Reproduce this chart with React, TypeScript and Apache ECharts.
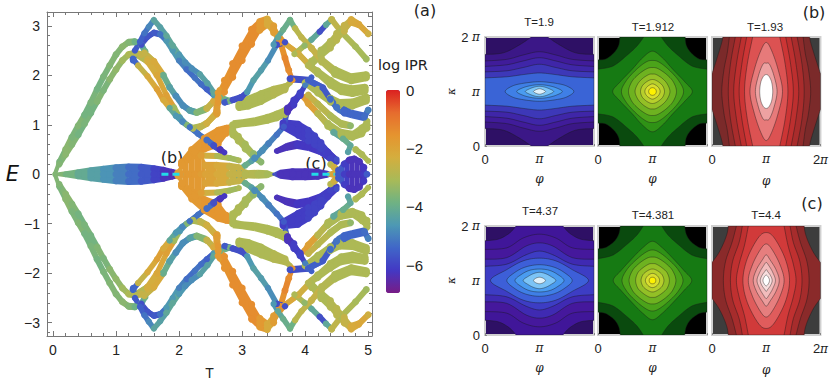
import React, { useEffect, useRef } from "react";
import * as echarts from "echarts";

type P = [number, number, number, number]; // T, E, band thickness in E, log IPR

const outerRise: P[] = [[.03,0,.1,-3.6],[.1,.25,.13,-3.7],[.2,.5,.14,-3.5],[.3,.75,.14,-3.7],[.4,.98,.14,-3.6],[.5,1.2,.14,-3.8],[.6,1.45,.14,-3.7],[.7,1.72,.14,-3.8],[.8,1.97,.14,-3.7],[.9,2.2,.14,-3.6],[1,2.42,.14,-3.6],[1.1,2.58,.14,-3.5],[1.2,2.67,.14,-3.6],[1.3,2.68,.14,-3.9],[1.4,2.62,.14,-4.2],[1.46,2.48,.14,-3.8]];
const innerRise: P[] = [[.1,.2,.13,-3.6],[.2,.4,.14,-3.5],[.3,.6,.14,-3.6],[.4,.8,.14,-3.8],[.5,1.02,.14,-3.7],[.6,1.24,.14,-3.8],[.7,1.47,.14,-3.6],[.8,1.7,.14,-3.7],[.9,1.92,.14,-3.5],[1,2.12,.14,-3.4],[1.1,2.3,.14,-3.2],[1.2,2.42,.14,-3],[1.3,2.44,.14,-2.8],[1.4,2.42,.14,-2.6],[1.5,2.32,.14,-2.4]];
const peakA: P[] = [[1.27,2.3,.13,-5.4],[1.3,2.5,.13,-5.6],[1.38,2.68,.13,-5.5],[1.45,2.85,.13,-5.2],[1.52,2.98,.13,-4.9],[1.6,3.12,.13,-4.3],[1.7,2.97,.13,-4.4],[1.8,2.8,.13,-4.2],[1.9,2.6,.13,-4.2],[2,2.42,.13,-4.6],[2.1,2.26,.13,-4.8],[2.2,2.14,.13,-4.8],[2.33,2.02,.13,-4.4],[2.45,1.84,.13,-4.4],[2.55,1.65,.13,-4.2],[2.65,1.55,.13,-3.9],[2.8,1.48,.13,-3.8]];
const peakB: P[] = [[1.4,2.62,.13,-5.8],[1.5,2.78,.13,-5.7],[1.6,2.86,.13,-5.6],[1.7,2.83,.13,-5.2],[1.8,2.7,.13,-4.6],[1.9,2.5,.13,-4.6],[2,2.3,.13,-5],[2.12,2.12,.13,-5.3],[2.25,1.95,.13,-5.2],[2.35,1.82,.13,-5.3],[2.44,1.72,.13,-5.5],[2.55,1.6,.13,-4.6],[2.65,1.5,.13,-4.2]];
const fallOuter: P[] = [[1.45,2.45,.15,-2.6],[1.6,2.28,.15,-2.2],[1.75,2,.15,-4],[1.85,1.76,.14,-4.4],[1.95,1.58,.14,-4.8],[2.06,1.39,.14,-4.8],[2.17,1.29,.14,-4.4],[2.28,1.25,.14,-3.6],[2.44,1.33,.16,-2.6],[2.55,1.48,.18,-2.2],[2.65,1.66,.22,-1.8]];
const fallMiddle: P[] = [[1.3,2.44,.14,-2.9],[1.5,2.28,.14,-2.3],[1.65,2,.14,-2.1],[1.8,1.6,.13,-1.9],[1.92,1.35,.13,-3.2],[2.01,1.15,.13,-4.6],[2.12,1,.13,-3.6],[2.22,.93,.14,-3],[2.34,.96,.15,-2.7],[2.44,1.03,.16,-2.4],[2.6,1.25,.2,-2]];
const fallInner: P[] = [[1.27,2.33,.14,-5.4],[1.35,2.2,.13,-2.6],[1.5,1.98,.13,-2.2],[1.65,1.72,.13,-1.9],[1.75,1.5,.13,-2.2],[1.85,1.34,.13,-4.2],[1.95,1.18,.13,-4.6],[2.05,1.06,.13,-4.9],[2.17,.95,.13,-5.2],[2.3,.82,.13,-5.2],[2.44,.69,.14,-5.3],[2.55,.58,.15,-5.8],[2.65,.5,.17,-6.3],[2.72,.44,.12,-6.2]];
const orangeRise: P[] = [[2.04,.22,.2,-1.7],[2.2,.42,.3,-1.7],[2.4,.62,.36,-1.6],[2.62,.75,.42,-1.6],[2.75,.88,.24,-1.6],[2.83,.95,.12,-1.8]];
const orangePeak: P[] = [[2.6,1.3,.26,-1.8],[2.62,1.55,.34,-1.7],[2.72,1.78,.38,-1.5],[2.85,2.1,.42,-1.4],[3,2.45,.44,-1.4],[3.15,2.78,.44,-1.4],[3.28,3,.32,-1.7],[3.4,3.08,.26,-2.2],[3.5,2.93,.28,-1.8],[3.6,2.7,.2,-1.5],[3.68,2.35,.14,-1.3],[3.74,2.1,.14,-1.4],[3.8,1.9,.12,-1.6]];
const fallBranch: P[] = [[3.5,2.93,.15,-2],[3.68,2.64,.13,-2.1],[3.89,2.44,.14,-2.4],[4.07,2.2,.16,-2.6]];
const afterPeak: P[] = [[3.99,1.55,.14,-1.8],[4.05,1.43,.16,-1.9],[4.2,1.23,.18,-2.8],[4.36,1,.2,-3],[4.57,.82,.2,-3],[4.75,.78,.2,-3],[4.9,.88,.26,-3],[4.98,1,.28,-3]];
const goldTwo: P[] = [[4.05,1.6,.14,-2.6],[4.2,1.42,.16,-2.8],[4.4,1.18,.18,-3],[4.57,1.02,.16,-3],[4.72,.98,.14,-3.4]];
const blueArchRise: P[] = [[2.72,1.45,.13,-5.6],[2.85,1.5,.13,-5.8],[2.98,1.55,.14,-5.8],[3.08,1.66,.13,-4.6],[3.18,1.9,.13,-4.4],[3.3,2.1,.13,-4.5],[3.41,2.3,.13,-4.8],[3.55,2.62,.13,-5.8],[3.68,2.67,.13,-5.8]];
const greenTip: P[] = [[3.5,2.62,.13,-4.6],[3.57,2.77,.13,-4.2],[3.65,2.92,.13,-4],[3.76,3.12,.13,-4]];
const secondFall: P[] = [[3.76,3.12,.13,-3.9],[3.84,2.95,.13,-2.8],[3.94,2.77,.13,-2.7],[4.1,2.55,.16,-2.6],[4.26,2.3,.2,-2.9],[4.47,2.07,.24,-3],[4.73,1.93,.22,-3],[4.97,1.98,.2,-3]];
const goldLensTop: P[] = [[2.95,1.38,.2,-3],[3.1,1.45,.28,-3],[3.3,1.55,.3,-3],[3.5,1.66,.26,-2.9],[3.68,1.74,.2,-2.9],[3.76,1.85,.12,-2.8]];
const goldLensLow: P[] = [[2.85,1,.18,-3],[3,1.03,.16,-3],[3.2,1.06,.18,-3],[3.4,1.12,.2,-3],[3.55,1.18,.22,-3],[3.68,1.25,.22,-3]];
const blueThick: P[] = [[3.2,.33,.14,-4.8],[3.32,.48,.14,-4.8],[3.42,.62,.14,-5],[3.55,.8,.13,-5.2],[3.66,.96,.13,-5.6],[3.72,1.3,.22,-6.3],[3.82,1.45,.24,-6.1],[3.92,1.62,.2,-6],[4,1.8,.12,-5],[4.1,1.96,.12,-5.5]];
const darkBlob: P[] = [[3.65,1,.22,-6.1],[3.89,.9,.36,-6.1],[4.05,.78,.36,-6],[4.15,.69,.32,-6],[4.25,.58,.26,-6],[4.36,.45,.18,-6.1],[4.5,.3,.12,-5.8]];
const darkArc: P[] = [[3.55,.47,.12,-6.3],[3.7,.55,.16,-6.3],[3.87,.6,.18,-6.2],[4.05,.56,.18,-6.2],[4.23,.47,.16,-6.1],[4.4,.32,.16,-6],[4.5,.25,.12,-6]];
const blueLadder: P[] = [[3.76,1.93,.14,-5.8],[4.05,1.9,.14,-5.5],[4.28,1.75,.14,-5.6],[4.4,1.52,.16,-5.3],[4.5,1.35,.18,-5.2],[4.62,1.27,.2,-5.4],[4.73,1.22,.18,-5.4],[4.94,1.16,.18,-5.3],[5,1.3,.14,-5]];
const riseFive: P[] = [[3.83,2.43,.13,-3],[3.99,2.6,.13,-3.4],[4.1,2.72,.13,-4.2],[4.23,2.88,.13,-5.8],[4.33,3.02,.13,-4.2],[4.42,3.13,.14,-2.9]];
const fallFive: P[] = [[4.42,3.13,.14,-2.7],[4.57,2.88,.14,-3],[4.8,2.58,.14,-3.1],[4.97,2.33,.14,-3.2]];
const riseSix: P[] = [[4.1,2.25,.22,-3],[4.25,2.45,.26,-3],[4.4,2.62,.28,-2.9],[4.5,2.78,.28,-2.8],[4.62,2.95,.26,-2.6],[4.73,3.1,.2,-2.2],[4.85,3.03,.16,-2.1],[5,2.84,.14,-2.4]];
const goldLowA: P[] = [[4.05,2.2,.16,-2.9],[4.2,2.06,.2,-3],[4.4,1.85,.24,-3],[4.57,1.72,.24,-3],[4.75,1.68,.24,-3],[4.95,1.72,.22,-3]];
const goldLowC: P[] = [[4,1.85,.16,-3],[4.2,1.68,.22,-3],[4.4,1.5,.22,-3],[4.55,1.42,.2,-3],[4.75,1.42,.22,-3],[4.97,1.52,.22,-3]];
const fallEnd: P[] = [[4.8,.5,.14,-3],[4.9,.4,.14,-3],[5,.27,.12,-3]];
const midBlue: P[] = [[4.45,.85,.14,-4.2],[4.6,.72,.13,-4],[4.72,.58,.13,-4.2],[4.68,.45,.13,-4.4]];
const fanTop: P[] = [[2.35,.38,.12,-2.4],[2.6,.37,.12,-3],[2.8,.33,.12,-3.2],[2.95,.28,.12,-3]];
const fallGold: P[] = [[2.85,.85,.24,-3],[2.94,.72,.24,-3],[3.05,.56,.24,-3.1],[3.18,.38,.22,-3.4],[3.3,.25,.14,-3.5]];
const blueDotsRise: P[] = [[2.95,.1,.12,-4.2],[3.05,.18,.13,-4],[3.15,.27,.13,-4.4],[3.2,.33,.14,-4.8]];
const crossC: P[] = [[4.4,.2,.13,-2.8],[4.46,.14,.15,-2.4],[4.52,.08,.14,-2.2]];
const upperBands: P[][] = [outerRise,innerRise,fallOuter,fallMiddle,orangeRise,fallInner,peakB,peakA,fallBranch,afterPeak,goldTwo,goldLensTop,goldLensLow,orangePeak,blueArchRise,greenTip,riseFive,fallFive,riseSix,goldLowA,secondFall,goldLowC,blueLadder,midBlue,fallEnd,fanTop,fallGold,blueDotsRise,darkArc,darkBlob,blueThick,crossC];

const lensOne: P[] = [[.03,0,.06,-3.6],[.2,0,.12,-3.8],[.4,0,.2,-4.1],[.6,0,.28,-4.4],[.8,0,.34,-4.7],[1,0,.4,-5],[1.2,0,.43,-5.3],[1.4,0,.42,-5.6],[1.6,0,.36,-6],[1.75,0,.3,-6.3],[1.88,0,.22,-6.4],[1.95,0,.18,-6.6]];
const lensOrange: P[] = [[1.98,0,.2,-1.8],[2.05,0,.5,-1.7],[2.15,0,.85,-1.7],[2.25,0,1.05,-1.7],[2.35,0,.9,-1.8],[2.42,0,.5,-2],[2.6,0,.5,-2.2],[2.8,0,.46,-2.6],[2.95,0,.4,-2.6],[3.05,0,.2,-2.8]];
const lensGold: P[] = [[3.05,0,.16,-2.9],[3.25,0,.18,-3],[3.4,0,.16,-3.1],[3.5,0,.06,-3.5]];
const lensDark: P[] = [[3.5,0,.06,-5.8],[3.6,0,.18,-6.3],[3.8,0,.24,-6.3],[4,0,.24,-6.3],[4.2,0,.22,-6.3],[4.35,0,.14,-6.2]];
const lensGoldEnd: P[] = [[4.38,0,.1,-2.2],[4.46,0,.16,-2],[4.52,0,.2,-2.4]];
const blobEnd: P[] = [[4.53,0,.3,-5.6],[4.62,0,.56,-6.1],[4.7,0,.72,-6.3],[4.78,0,.76,-6.3],[4.86,0,.66,-6.3],[4.93,0,.42,-6.2],[4.98,0,.14,-5.6]];
const centerBands: P[][] = [lensOne, lensOrange, lensGold, lensDark, lensGoldEnd, blobEnd];

const dashB = [[1.72, 0], [2.07, 0]];
const dashC = [[4.1, 0], [4.47, 0]];

const rainbow = ["#781c86","#4338c4","#4066c8","#4d98b4","#6fb283","#a8ba58","#d4ae3e","#e5942f","#e66c2e","#db2120"];

const contoursB1 = [[[1,.68],[.66,.71],[.36,.86],[.15,1]],[[1,.56],[.6,.59],[.3,.67],[0,.73]],[[1,.46],[.6,.49],[.3,.56],[0,.62]],[[1,.36],[.6,.38],[.3,.44],[0,.5]],[[1,.25],[.6,.27],[.3,.31],[0,.34]],[[.63,0],[.5,.1],[.3,.15],[0,.18]],[[.42,0],[.3,.07],[.15,.11],[0,.125]],[[.26,0],[.18,.05],[.08,.085],[0,.095]],[[.11,0],[.07,.03],[0,.05]]];
const fillsB1 = ["#3b1787","#401c9a","#3f26a8","#3d38b8","#3a64d6","#3f7fe6","#4a9cf0","#7cc4f6","#dff1fb"];
const contoursB2 = [[[1,.58],[.85,.6],[.7,.72],[.62,.85],[.6,1]],[[1,.41],[.72,.47],[.45,.68],[.28,.84],[.16,1]],[[.73,0],[.6,.17],[.38,.4],[.18,.62],[0,.74]],[[.57,0],[.48,.2],[.3,.4],[.12,.54],[0,.57]],[[.44,0],[.38,.18],[.25,.32],[.1,.42],[0,.44]],[[.32,0],[.27,.14],[.18,.24],[.07,.31],[0,.32]],[[.22,0],[.19,.1],[.12,.17],[.05,.21],[0,.22]],[[.14,0],[.12,.06],[.07,.11],[0,.14]],[[.07,0],[.05,.05],[0,.07]]];
const fillsB2 = ["#0a4a0e","#167a13","#2f9216","#4ba31a","#6eb220","#93c026","#b7cf2c","#d9de30","#fff200"];
const contoursB3 = [[[1,.33],[.95,.48],[.88,.7],[.82,.9],[.8,1]],[[.82,0],[.78,.4],[.72,.7],[.68,1]],[[.7,0],[.66,.5],[.57,1]],[[.6,0],[.55,.5],[.46,1]],[[.5,0],[.45,.5],[.36,1]],[[.4,0],[.35,.5],[.25,1]],[[.3,0],[.22,.4],[.1,.75],[0,.9]],[[.2,0],[.14,.3],[.06,.5],[0,.52]],[[.12,0],[.1,.17],[.05,.28],[0,.31]]];
const fillsB3 = ["#7b2a2a","#912b2b","#a92c2c","#bd2f2f","#cc3535","#dc5252","#e77a7a","#eda2a2","#ffffff"];
const contoursC1 = [[[1,.73],[.75,.76],[.55,.87],[.43,1]],[[1,.57],[.6,.6],[.3,.78],[0,.85]],[[1,.39],[.6,.42],[.25,.63],[0,.69]],[[1,.26],[.6,.3],[.25,.47],[0,.54]],[[.9,0],[.6,.2],[.3,.36],[0,.41]],[[.6,0],[.45,.15],[.25,.25],[0,.29]],[[.45,0],[.32,.12],[.17,.19],[0,.21]],[[.3,0],[.2,.08],[.1,.13],[0,.15]],[[.11,0],[.07,.04],[0,.06]]];
const fillsC1 = ["#401699","#45189c","#3f2ab2","#3d3dc4","#3d5fd8","#3f7fe6","#4a9cf0","#7cc4f6","#dff1fb"];
const contoursC2 = [[[1,.58],[.85,.61],[.7,.72],[.62,.85],[.59,1]],[[1,.4],[.72,.47],[.45,.68],[.28,.84],[.17,1]],[[.72,0],[.58,.18],[.38,.4],[.18,.6],[0,.72]],[[.56,0],[.47,.2],[.3,.38],[.12,.52],[0,.56]],[[.43,0],[.37,.18],[.25,.31],[.1,.41],[0,.43]],[[.31,0],[.27,.14],[.18,.23],[.07,.3],[0,.31]],[[.21,0],[.18,.1],[.12,.16],[.05,.2],[0,.21]],[[.13,0],[.11,.06],[.06,.11],[0,.13]],[[.06,0],[.045,.045],[0,.06]]];
const contoursC3 = [[[1,.33],[.88,.5],[.78,.7],[.72,.87],[.7,1]],[[.79,0],[.75,.35],[.63,.7],[.55,1]],[[.66,0],[.62,.35],[.5,.7],[.44,1]],[[.55,0],[.5,.3],[.4,.65],[.33,1]],[[.43,0],[.35,.4],[.15,.78],[0,.88]],[[.33,0],[.25,.3],[.1,.58],[0,.67]],[[.24,0],[.18,.2],[.07,.38],[0,.47]],[[.17,0],[.12,.15],[.05,.27],[0,.33]],[[.11,0],[.08,.09],[.03,.16],[0,.2]],[[.06,0],[.045,.05],[0,.1]]];
const fillsC3 = ["#8a2a2a","#a62c2c","#bf3030","#d13a3a","#e05c5c","#e67e7e","#ec9c9c","#f2bcbc","#f8dede","#ffffff"];

const tTicks = [0,1,2,3,4,5];
const tMinor = [0,.2,.4,.6,.8,1,1.2,1.4,1.6,1.8,2,2.2,2.4,2.6,2.8,3,3.2,3.4,3.6,3.8,4,4.2,4.4,4.6,4.8,5];
const eTicks = [-3,-2,-1,0,1,2,3];
const eMinor = [-3.2,-3,-2.8,-2.6,-2.4,-2.2,-2,-1.8,-1.6,-1.4,-1.2,-1,-.8,-.6,-.4,-.2,0,.2,.4,.6,.8,1,1.2,1.4,1.6,1.8,2,2.2,2.4,2.6,2.8,3,3.2];
const iprTicks = [0,-2,-4,-6];
const panelTitles = [["T=1.9","T=1.912","T=1.93"],["T=4.37","T=4.381","T=4.4"]];

const sans = '"Liberation Sans", Arial, sans-serif';
const deja = '"DejaVu Sans", sans-serif';
const minus = (v: number) => String(v).replace("-", "\u2212");

const MAIN = { left: 47, top: 12, width: 325, height: 324 };
const E_MIN = -3.27, E_MAX = 3.28, T_MIN = -0.095, T_MAX = 5.06;
const PX_PER_E = MAIN.height / (E_MAX - E_MIN);
const DOT_E = 0.145;

function quadrant(q: number[][]): number[][] {
  const out: number[][] = [];
  const at = (i: number) => {
    if (i >= 0 && i < q.length) return q[i];
    const e = i < 0 ? q[0] : q[q.length - 1];
    const n = i < 0 ? q[1] : q[q.length - 2];
    if (e[1] === 0) return [n[0], -n[1]];
    if (e[0] === 0) return [-n[0], n[1]];
    return e;
  };
  for (let i = 0; i < q.length - 1; i++) {
    const a = at(i - 1), b = at(i), c = at(i + 1), d = at(i + 2);
    for (let k = 0; k < 8; k++) {
      const t = k / 8, t2 = t * t, t3 = t2 * t;
      out.push([0, 1].map((j) => 0.5 * (2 * b[j] + (c[j] - a[j]) * t + (2 * a[j] - 5 * b[j] + 4 * c[j] - d[j]) * t2 + (3 * b[j] - a[j] - 3 * c[j] + d[j]) * t3)));
    }
  }
  out.push(q[q.length - 1]);
  return out;
}
function loop(q: number[][]): number[][] {
  const s = quadrant(q);
  const r = [...s].reverse();
  return [
    ...s,
    ...r.map(([x, y]) => [-x, y]),
    ...s.map(([x, y]) => [-x, -y]),
    ...r.map(([x, y]) => [x, -y]),
  ];
}

function contourSeries(index: number, contours: number[][][], fills: string[]) {
  return {
    type: "custom",
    xAxisIndex: 4 + index,
    yAxisIndex: 4 + index,
    clip: true,
    silent: true,
    encode: { x: 0, y: 1 },
    data: contours.map((_, i) => [1, 1, i]),
    renderItem: (params: any, api: any) => {
      const i = api.value(2);
      const points = loop(contours[i]).map(([x, y]) => api.coord([1 + x, 1 + y]));
      return {
        type: "polygon",
        shape: { points },
        style: { fill: fills[i], stroke: "rgba(25,25,25,0.7)", lineWidth: 0.6 },
      };
    },
  };
}

const panelRects = [
  { left: 485, top: 37, bg: "#2e1065" }, { left: 598, top: 37, bg: "#000000" }, { left: 712, top: 37, bg: "#3d3d3d" },
  { left: 485, top: 226, bg: "#2e1065" }, { left: 598, top: 226, bg: "#000000" }, { left: 712, top: 226, bg: "#3d3d3d" },
];
const PW = 109, PH = 109;

function buildOption() {
  const mirrored = upperBands.map((b) => b.map(([t, e, d, l]) => [t, -e, d, l] as P));
  const allBands = [...upperBands, ...mirrored, ...centerBands];
  const points: number[][] = [];
  const segments: number[][] = [];
  allBands.forEach((b) => b.forEach((p, i) => {
    const [t, e, d, l] = p;
    if (d > DOT_E * 1.3) {
      const off = d / 2 - DOT_E / 2;
      points.push([t, e + off, DOT_E, l], [t, e - off, DOT_E, l]);
    }
    points.push([t, e, Math.min(d, DOT_E), l]);
    if (i < b.length - 1) segments.push([t, e, d, l, b[i + 1][0], b[i + 1][1], b[i + 1][2]]);
  }));

  const grid: any[] = [
    { ...MAIN, show: false },
    { ...MAIN, show: false },
    ...panelRects.map((p) => ({ left: p.left, top: p.top, width: PW, height: PH, show: true, backgroundColor: p.bg, borderColor: "#d0d0d0", borderWidth: 2 })),
    { left: 386, top: 90, width: 14, height: 203, show: false },
  ];
  const line = { show: true, onZero: false, lineStyle: { color: "#777", width: 1 } };
  const noLine = { show: false, onZero: false };
  const mainTick = (len: number, vals: number[]) => ({ show: true, inside: true, length: len, customValues: vals, lineStyle: { color: "#777", width: 1 } });
  const xAxis: any[] = [
    { type: "value", gridIndex: 0, min: T_MIN, max: T_MAX, position: "bottom", splitLine: { show: false }, axisLine: line, axisTick: mainTick(5, tTicks),
      axisLabel: { customValues: tTicks, color: "#222", fontFamily: sans, fontSize: 14, margin: 7 }, name: "T", nameLocation: "middle", nameGap: 30, nameTextStyle: { color: "#222", fontFamily: sans, fontSize: 14 } },
    { type: "value", gridIndex: 0, min: T_MIN, max: T_MAX, position: "top", splitLine: { show: false }, axisLine: line, axisTick: mainTick(5, tTicks), axisLabel: { show: false } },
    { type: "value", gridIndex: 1, min: T_MIN, max: T_MAX, position: "bottom", splitLine: { show: false }, axisLine: noLine, axisTick: mainTick(3, tMinor), axisLabel: { show: false } },
    { type: "value", gridIndex: 1, min: T_MIN, max: T_MAX, position: "top", splitLine: { show: false }, axisLine: noLine, axisTick: mainTick(3, tMinor), axisLabel: { show: false } },
  ];
  const yAxis: any[] = [
    { type: "value", gridIndex: 0, min: E_MIN, max: E_MAX, position: "left", splitLine: { show: false }, axisLine: line, axisTick: mainTick(5, eTicks),
      axisLabel: { customValues: eTicks, formatter: minus, color: "#222", fontFamily: sans, fontSize: 14, margin: 7 }, name: "E", nameLocation: "middle", nameRotate: 0, nameGap: 24, nameTextStyle: { color: "#111", fontFamily: deja, fontStyle: "italic", fontSize: 21 } },
    { type: "value", gridIndex: 0, min: E_MIN, max: E_MAX, position: "right", splitLine: { show: false }, axisLine: line, axisTick: mainTick(5, eTicks), axisLabel: { show: false } },
    { type: "value", gridIndex: 1, min: E_MIN, max: E_MAX, position: "left", splitLine: { show: false }, axisLine: noLine, axisTick: mainTick(3, eMinor), axisLabel: { show: false } },
    { type: "value", gridIndex: 1, min: E_MIN, max: E_MAX, position: "right", splitLine: { show: false }, axisLine: noLine, axisTick: mainTick(3, eMinor), axisLabel: { show: false } },
  ];
  const piRich = { i: { fontStyle: "italic", fontFamily: '"DejaVu Serif", serif', fontSize: 12, color: "#222" } };
  panelRects.forEach((_, k) => {
    const col = k % 3;
    const xVals = col === 2 ? [0, 1, 2] : [0, 1];
    xAxis.push({
      type: "value", gridIndex: 2 + k, min: 0, max: 2, splitLine: { show: false }, axisLine: { show: false, onZero: false },
      axisTick: { show: true, inside: true, length: 2, customValues: [0, 1, 2], lineStyle: { color: "#888" } },
      axisLabel: { customValues: xVals, color: "#222", fontFamily: sans, fontSize: 13, margin: 7, rich: piRich, formatter: (v: number) => v === 0 ? "0" : v === 1 ? "{i|\u03c0}" : "2{i|\u03c0}" },
      name: "\u03c6", nameLocation: "middle", nameGap: col === 2 ? 29 : 27, nameTextStyle: { color: "#222", fontFamily: '"DejaVu Serif", serif', fontStyle: "italic", fontSize: 12 },
    });
    yAxis.push({
      type: "value", gridIndex: 2 + k, min: 0, max: 2, splitLine: { show: false }, axisLine: { show: false, onZero: false },
      axisTick: { show: col === 0, inside: true, length: 2, customValues: [0, 1, 2], lineStyle: { color: "#888" } },
      axisLabel: { show: col === 0, customValues: [0, 1, 2], color: "#222", fontFamily: sans, fontSize: 13, margin: 5, rich: piRich, formatter: (v: number) => v === 0 ? "0" : v === 1 ? "{i|\u03c0}" : "2 {i|\u03c0}" },
      name: col === 0 ? "\u03ba" : "", nameLocation: "middle", nameGap: 27, nameTextStyle: { color: "#222", fontFamily: '"DejaVu Serif", serif', fontStyle: "italic", fontSize: 11 },
    });
  });
  xAxis.push({ type: "value", gridIndex: 8, min: 0, max: 1, show: false });
  yAxis.push({ type: "value", gridIndex: 8, min: -6.95, max: 0, position: "right", splitLine: { show: false }, axisLine: { show: false, onZero: false },
    axisTick: { show: true, inside: true, length: 3, customValues: iprTicks, lineStyle: { color: "#fff" } },
    axisLabel: { customValues: iprTicks, formatter: minus, color: "#222", fontFamily: sans, fontSize: 15, margin: 6 } });

  const titleAt = (text: string, x: number, y: number, size = 11.5, family = sans) => ({
    type: "text", x, y, silent: true,
    style: { text, fontFamily: family, fontSize: size, fill: "#222", align: "center", verticalAlign: "middle" },
  });
  const graphic = [
    titleAt(panelTitles[0][0], 539, 22), titleAt(panelTitles[0][1], 653, 27), titleAt(panelTitles[0][2], 765, 27),
    titleAt(panelTitles[1][0], 540, 211), titleAt(panelTitles[1][1], 653, 215), titleAt(panelTitles[1][2], 766, 215),
    titleAt("(a)", 425, 10, 16, deja), titleAt("(b)", 814, 12, 16, deja), titleAt("(c)", 812, 203, 16, deja),
    titleAt("(b)", 172, 157, 16, deja), titleAt("(c)", 316, 163, 16, deja), titleAt("log IPR", 403, 65, 14.5, deja),
  ];

  const series: any[] = [
    {
      type: "custom", xAxisIndex: 0, yAxisIndex: 0, clip: true, silent: true,
      encode: { x: 0, y: 1 }, dimensions: ["T", "E", "dE", "log", "T1", "E1", "dE1"], data: segments,
      renderItem: (params: any, api: any) => {
        const t0 = api.value(0), e0 = api.value(1), d0 = api.value(2) / 2;
        const t1 = api.value(4), e1 = api.value(5), d1 = api.value(6) / 2;
        const a = api.coord([t0, e0]), b = api.coord([t1, e1]);
        const c = api.visual("color");
        return { type: "group", children: [
          { type: "polygon", shape: { points: [api.coord([t0, e0 + d0]), api.coord([t1, e1 + d1]), api.coord([t1, e1 - d1]), api.coord([t0, e0 - d0])] }, style: { fill: c } },
          { type: "line", shape: { x1: a[0], y1: a[1], x2: b[0], y2: b[1] }, style: { stroke: c, lineWidth: Math.min(api.value(2), api.value(6), DOT_E) * PX_PER_E * 0.85, fill: "none" } },
        ] };
      },
    },
    {
      type: "scatter", xAxisIndex: 0, yAxisIndex: 0, silent: true, data: points,
      symbolSize: (v: number[]) => v[2] * PX_PER_E, itemStyle: { opacity: 1 },
    },
    { type: "line", xAxisIndex: 0, yAxisIndex: 0, silent: true, data: dashB, symbol: "none", z: 5, lineStyle: { color: "#22dbe8", width: 3, type: [7, 4] } },
    { type: "line", xAxisIndex: 0, yAxisIndex: 0, silent: true, data: dashC, symbol: "none", z: 5, lineStyle: { color: "#22dbe8", width: 3, type: [7, 4] } },
    contourSeries(0, contoursB1, fillsB1), contourSeries(1, contoursB2, fillsB2), contourSeries(2, contoursB3, fillsB3),
    contourSeries(3, contoursC1, fillsC1), contourSeries(4, contoursC2, fillsB2), contourSeries(5, contoursC3, fillsC3),
  ];

  return {
    animation: false,
    backgroundColor: "#ffffff",
    grid, xAxis, yAxis, series, graphic,
    visualMap: [{
      type: "continuous", seriesIndex: [0, 1], dimension: 3, min: -6.95, max: 0, show: true, calculable: false, hoverLink: false,
      left: 386, top: 90, itemWidth: 14, itemHeight: 203, text: ["", ""], textGap: 0, padding: 0, inRange: { color: rainbow }, outOfRange: { color: rainbow[0] },
    }],
  };
}

export default function App() {
  const ref = useRef<HTMLDivElement>(null);
  useEffect(() => {
    document.body.style.margin = "0";
    const chart = echarts.init(ref.current!, undefined, { renderer: "svg" });
    chart.setOption(buildOption() as any);
    return () => chart.dispose();
  }, []);
  return <div ref={ref} style={{ width: 831, height: 385 }} />;
}
